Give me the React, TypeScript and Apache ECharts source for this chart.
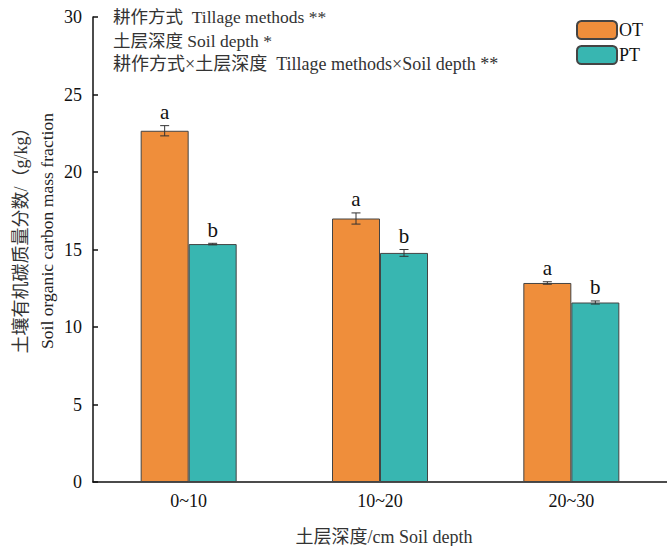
import React, { useEffect, useRef } from "react";
import * as echarts from "echarts";

const categories = ["0~10", "10~20", "20~30"];
const otValues = [22.66, 17.0, 12.84];
const ptValues = [15.35, 14.78, 11.58];
const otErrors = [0.33, 0.36, 0.08];
const ptErrors = [0.05, 0.22, 0.1];
const otLetters = ["a", "a", "a"];
const ptLetters = ["b", "b", "b"];
const yTicks = { min: 0, max: 30, interval: 5 };
const annotationLines = [
  "耕作方式  Tillage methods **",
  "土层深度 Soil depth *",
  "耕作方式×土层深度  Tillage methods×Soil depth **",
];

const FONT = "'Times New Roman', 'Liberation Serif', 'Noto Sans CJK SC', serif";
const OT_COLOR = "#EF8E3B";
const PT_COLOR = "#38B6B1";
const BAR_W = 48;

function errorSeries(name: string, values: number[], errors: number[], letters: string[], offset: number) {
  return {
    type: "custom",
    name: name + "-err",
    z: 10,
    silent: true,
    data: values.map((v, i) => [i, v, errors[i]]),
    renderItem: (params: any, api: any) => {
      const idx = api.value(0);
      const v = api.value(1);
      const e = api.value(2);
      const letter = letters[params.dataIndex];
      const c = api.coord([idx, v]);
      const x = c[0] + offset;
      const yTop = api.coord([idx, v + e])[1];
      const yBot = api.coord([idx, v - e])[1];
      const cap = 4.5;
      const st = { stroke: "#333", lineWidth: 1 };
      return {
        type: "group",
        children: [
          { type: "line", shape: { x1: x, y1: yTop, x2: x, y2: yBot }, style: st },
          { type: "line", shape: { x1: x - cap, y1: yTop, x2: x + cap, y2: yTop }, style: st },
          { type: "line", shape: { x1: x - cap, y1: yBot, x2: x + cap, y2: yBot }, style: st },
          {
            type: "text",
            style: {
              x: x,
              y: yTop - 3,
              text: letter,
              align: "center",
              verticalAlign: "bottom",
              fontFamily: FONT,
              fontSize: 21,
              fill: "#111",
            },
          },
        ],
      };
    },
  };
}

export default function App() {
  const ref = useRef<HTMLDivElement>(null);
  useEffect(() => {
    if (!ref.current) return;
    const chart = echarts.init(ref.current, null, { renderer: "svg" });
    chart.setOption({
      animation: false,
      backgroundColor: "#ffffff",
      grid: { left: 93, right: -7, top: 17, bottom: 64, containLabel: false },
      legend: {
        orient: "vertical",
        left: 571,
        top: 15,
        itemWidth: 40,
        itemHeight: 18,
        itemGap: 5,
        data: ["OT", "PT"],
        textStyle: { fontFamily: FONT, fontSize: 18, color: "#111", padding: [0, 0, 0, -3] },
      },
      xAxis: {
        type: "category",
        data: categories,
        axisLine: { lineStyle: { color: "#111", width: 1.5 } },
        axisTick: { show: false },
        axisLabel: { fontFamily: FONT, fontSize: 18, color: "#111", margin: 10 },
      },
      yAxis: {
        type: "value",
        min: yTicks.min,
        max: yTicks.max,
        interval: yTicks.interval,
        axisLine: { show: true, lineStyle: { color: "#111", width: 1.5 } },
        axisTick: { show: true, inside: true, length: 5, lineStyle: { color: "#111", width: 1.5 } },
        splitLine: { show: false },
        axisLabel: { fontFamily: FONT, fontSize: 18, color: "#111", margin: 11 },
      },
      series: [
        {
          type: "bar",
          name: "OT",
          data: otValues,
          barWidth: BAR_W,
          barGap: "0%",
          itemStyle: { color: OT_COLOR, borderColor: "#444", borderWidth: 1 },
        },
        {
          type: "bar",
          name: "PT",
          data: ptValues,
          barWidth: BAR_W,
          barGap: "0%",
          itemStyle: { color: PT_COLOR, borderColor: "#444", borderWidth: 1 },
        },
        errorSeries("OT", otValues, otErrors, otLetters, -BAR_W / 2),
        errorSeries("PT", ptValues, ptErrors, ptLetters, BAR_W / 2),
      ],
      graphic: [
        ...annotationLines.map((t, i) => ({
          type: "text",
          x: 113,
          y: 17 + i * 23.5,
          style: {
            text: t,
            fontFamily: FONT,
            fontSize: i === 2 ? 18 : 17.5,
            fill: "#333",
            align: "left",
            verticalAlign: "middle",
          },
        })),
        {
          type: "text",
          x: 21,
          y: 236,
          rotation: Math.PI / 2,
          style: {
            text: "土壤有机碳质量分数/（g/kg）",
            fontFamily: FONT,
            fontSize: 18,
            fill: "#333",
            align: "center",
            verticalAlign: "middle",
          },
        },
        {
          type: "text",
          x: 47,
          y: 231,
          rotation: Math.PI / 2,
          style: {
            text: "Soil organic carbon mass fraction",
            fontFamily: FONT,
            fontSize: 17.6,
            fill: "#222",
            align: "center",
            verticalAlign: "middle",
          },
        },
        {
          type: "text",
          x: 384,
          y: 537,
          style: {
            text: "土层深度/cm Soil depth",
            fontFamily: FONT,
            fontSize: 18,
            fill: "#333",
            align: "center",
            verticalAlign: "middle",
          },
        },
      ],
    });
    return () => chart.dispose();
  }, []);
  return (
    <div
      ref={ref}
      style={{ position: "absolute", left: 0, top: 0, width: 667, height: 546 }}
    />
  );
}
